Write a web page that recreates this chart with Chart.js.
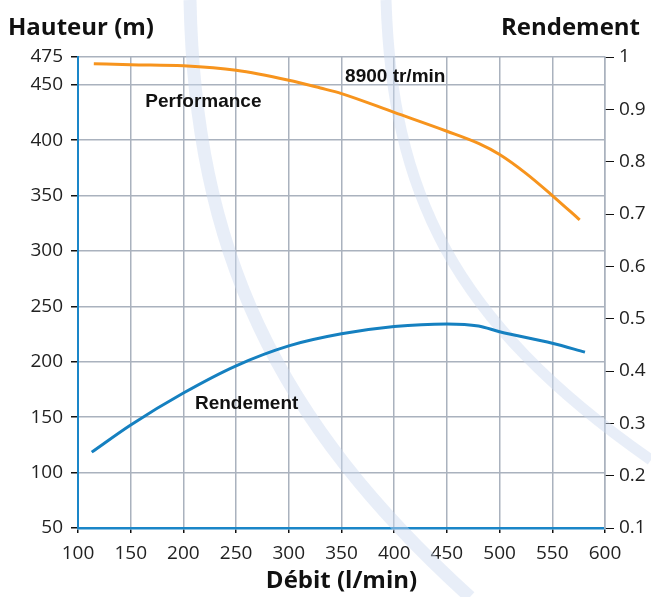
<!DOCTYPE html>
<html>
<head>
<meta charset="utf-8">
<script src="https://cdn.jsdelivr.net/npm/chart.js@4/dist/chart.umd.min.js"></script>
<style>
  html, body { margin: 0; padding: 0; background: #fff; }
  #wrap { width: 651px; height: 597px; }
</style>
</head>
<body>
<div id="wrap"><canvas id="pumpChart" width="651" height="597"></canvas></div>
<script>
// Courbe de performance (hauteur en m)
const debitPerf = [115, 150, 200, 250, 300, 330, 350, 400, 450, 480, 500, 525, 550, 576];
const hauteur = [469, 468, 467, 463, 454, 447, 442, 425, 408, 397, 387, 370, 350, 328];

// Courbe de rendement
const debitRend = [113, 150, 200, 250, 300, 350, 400, 450, 480, 500, 550, 581];
const rendement = [0.245, 0.297, 0.358, 0.41, 0.448, 0.471, 0.485, 0.49, 0.486, 0.475, 0.453, 0.436];

// Ticks
const hauteurTicks = [50, 100, 150, 200, 250, 300, 350, 400, 450, 475];
const rendementTicks = [0.1, 0.2, 0.3, 0.4, 0.5, 0.6, 0.7, 0.8, 0.9, 1];
const debitTicks = [100, 150, 200, 250, 300, 350, 400, 450, 500, 550, 600];

// Labels in the chart: [text, debit, hauteur]
const notes = [
    ['Performance', 219, 435],
    ['8900 tr/min', 401, 457],
    ['Rendement', 260, 162]
];

const gridColor = '#aab2be';
const axisBlue = '#1a86c8';
const tickFont = { family: 'Open Sans', size: 19 };

// faint watermark bands + titles
const decoPlugin = {
    id: 'deco',
    beforeDatasetsDraw(chart) {
        const ctx = chart.ctx;
        ctx.save();
        ctx.strokeStyle = 'rgba(205,218,240,0.45)';
        ctx.lineWidth = 13;
        ctx.beginPath();
        ctx.moveTo(190, 0);
        ctx.bezierCurveTo(195, 250, 275, 420, 470, 597);
        ctx.stroke();
        ctx.lineWidth = 11;
        ctx.beginPath();
        ctx.moveTo(386, 0);
        ctx.bezierCurveTo(392, 190, 450, 320, 651, 460);
        ctx.stroke();
        ctx.restore();
    },
    afterDraw(chart) {
        const ctx = chart.ctx;
        const x = chart.scales.x;
        const y = chart.scales.y;
        ctx.save();
        ctx.fillStyle = '#111';
        ctx.font = 'bold 24px "Open Sans"';
        ctx.textBaseline = 'middle';
        ctx.textAlign = 'left';
        ctx.fillText('Hauteur (m)', 8, 28);
        ctx.textAlign = 'right';
        ctx.fillText('Rendement', 640, 28);
        ctx.textAlign = 'center';
        ctx.fillText('Débit (l/min)', (x.left + x.right) / 2, 581);

        ctx.font = 'bold 19px "Liberation Sans"';
        notes.forEach(n => {
            ctx.fillText(n[0], x.getPixelForValue(n[1]), y.getPixelForValue(n[2]));
        });
        ctx.restore();
    }
};

new Chart(document.getElementById('pumpChart'), {
    type: 'line',
    data: {
        datasets: [
            {
                label: 'Performance',
                data: debitPerf.map((d, i) => ({ x: d, y: hauteur[i] })),
                borderColor: '#f7941d',
                borderWidth: 3,
                pointRadius: 0,
                cubicInterpolationMode: 'monotone',
                yAxisID: 'y'
            },
            {
                label: 'Rendement',
                data: debitRend.map((d, i) => ({ x: d, y: rendement[i] })),
                borderColor: '#1580c0',
                borderWidth: 3,
                pointRadius: 0,
                cubicInterpolationMode: 'monotone',
                yAxisID: 'y1'
            }
        ]
    },
    options: {
        responsive: false,
        animation: false,
        layout: { padding: { top: 57, left: 0, right: 0, bottom: 0 } },
        plugins: {
            legend: { display: false },
            tooltip: { enabled: false }
        },
        scales: {
            x: {
                type: 'linear',
                min: 100,
                max: 600,
                afterBuildTicks: s => { s.ticks = debitTicks.map(v => ({ value: v })); },
                afterFit: s => { s.height = 69; },
                ticks: { font: tickFont, color: '#222', padding: 9, maxRotation: 0, autoSkip: false },
                grid: { color: gridColor, lineWidth: 1.5, tickColor: '#111', tickLength: 5 },
                border: { color: axisBlue, width: 2.5 }
            },
            y: {
                position: 'left',
                min: 50,
                max: 475,
                afterBuildTicks: s => { s.ticks = hauteurTicks.map(v => ({ value: v })); },
                afterFit: s => { s.width = 78; },
                ticks: { font: tickFont, color: '#222', padding: 8, autoSkip: false },
                grid: { color: gridColor, lineWidth: 1.5, tickColor: '#111', tickLength: 7 },
                border: { color: axisBlue, width: 2 }
            },
            y1: {
                position: 'right',
                min: 0.1,
                max: 1,
                afterBuildTicks: s => { s.ticks = rendementTicks.map(v => ({ value: v })); },
                afterFit: s => { s.width = 46; },
                ticks: {
                    font: tickFont, color: '#222', padding: 5, autoSkip: false,
                    callback: v => String(Math.round(v * 10) / 10)
                },
                grid: { drawOnChartArea: false, tickColor: '#111', tickLength: 9 },
                border: { color: gridColor, width: 1.5 }
            }
        }
    },
    plugins: [decoPlugin]
});
</script>
</body>
</html>
